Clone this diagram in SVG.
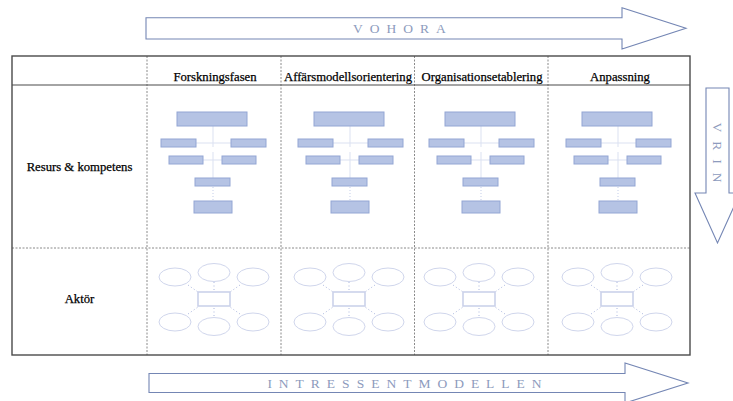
<svg xmlns="http://www.w3.org/2000/svg" xmlns:xlink="http://www.w3.org/1999/xlink" width="733" height="401" viewBox="0 0 733 401">
  <style>
    .bg { fill: #ffffff; }
    .frame { fill: none; stroke: #4a4a4a; stroke-width: 1.4; }
    .rule { stroke: #4a4a4a; stroke-width: 1.2; }
    .sep { stroke: #8a8a8a; stroke-width: 1; stroke-dasharray: 2 1.5; }
    .head { font-family: "Liberation Serif", "Times New Roman", serif; font-size: 12.7px; fill: #000000; stroke: #000000; stroke-width: 0.25; text-anchor: middle; }
    .arrow { fill: #ffffff; stroke: #7486b4; stroke-width: 1.1; }
    .atext { font-family: "Liberation Serif", "Times New Roman", serif; font-size: 13.5px; fill: #8d9bbd; text-anchor: middle; }
    .box { fill: #b5c3e4; stroke: #93a6d4; stroke-width: 1; }
    .link { stroke: #dbe1f1; stroke-width: 1; fill: none; }
    .dlink { stroke: #c3cde9; stroke-width: 1; stroke-dasharray: 1 2; fill: none; }
    .oval { fill: #ffffff; stroke: #d0d6ec; stroke-width: 1; }
    .hub { fill: #ffffff; stroke: #cbd2ea; stroke-width: 1.6; }
    .spoke { stroke: #aab6de; stroke-width: 1; stroke-dasharray: 1 2.5; fill: none; }
  </style>
  <defs>
    <!-- small org chart: one per phase column -->
    <g id="orgchart">
      <line class="link" x1="213" y1="126" x2="213" y2="147"/>
      <line class="link" x1="196" y1="143" x2="231" y2="143"/>
      <line class="link" x1="213" y1="152" x2="213" y2="178"/>
      <line class="link" x1="203" y1="160" x2="222" y2="160"/>
      <line class="dlink" x1="213" y1="187" x2="213" y2="201"/>
      <rect class="box" x="177" y="112" width="70" height="14"/>
      <rect class="box" x="161" y="139" width="35" height="8"/>
      <rect class="box" x="231" y="139" width="35" height="8"/>
      <rect class="box" x="169" y="156" width="34" height="8"/>
      <rect class="box" x="222" y="156" width="34" height="8"/>
      <rect class="box" x="195" y="178" width="35" height="8"/>
      <rect class="box" x="194" y="201" width="38" height="12"/>
    </g>
    <!-- small stakeholder map: hub with six actors -->
    <g id="actormap">
      <line class="spoke" x1="188" y1="285" x2="198" y2="292"/>
      <line class="spoke" x1="214" y1="282" x2="214" y2="292"/>
      <line class="spoke" x1="240" y1="285" x2="230" y2="292"/>
      <line class="spoke" x1="188" y1="314" x2="198" y2="307"/>
      <line class="spoke" x1="214" y1="308" x2="214" y2="316"/>
      <line class="spoke" x1="240" y1="314" x2="230" y2="307"/>
      <ellipse class="oval" cx="175" cy="277" rx="16" ry="9"/>
      <ellipse class="oval" cx="214" cy="272.5" rx="16" ry="9"/>
      <ellipse class="oval" cx="253" cy="277" rx="16" ry="9"/>
      <ellipse class="oval" cx="175" cy="322" rx="16" ry="9"/>
      <ellipse class="oval" cx="214" cy="326.5" rx="16" ry="9"/>
      <ellipse class="oval" cx="253" cy="322" rx="16" ry="9"/>
      <rect class="hub" x="198" y="292" width="32" height="14"/>
    </g>
  </defs>

  <rect class="bg" x="0" y="0" width="733" height="401"/>

  <!-- big arrows -->
  <g id="vohora">
    <path class="arrow" d="M146,17.7 H622 V7.7 L686,28.3 L622,49 V39 H146 Z"/>
    <text class="atext" x="403" y="32.5" letter-spacing="7">VOHORA</text>
  </g>
  <g id="vrin">
    <path class="arrow" d="M706,88 H729 V193 H740 L717.5,243 L695,193 H706 Z"/>
    <text class="atext" transform="translate(713,157) rotate(90)" x="0" y="0" letter-spacing="9">VRIN</text>
  </g>
  <g id="intressentmodellen">
    <path class="arrow" d="M149,373.5 H625 V363 L688,383 L625,403 V392.5 H149 Z"/>
    <text class="atext" x="408" y="388" letter-spacing="7">INTRESSENTMODELLEN</text>
  </g>

  <!-- table -->
  <g id="table">
    <line class="sep" x1="12" y1="248" x2="690" y2="248"/>
    <line class="sep" x1="147" y1="56" x2="147" y2="355"/>
    <line class="sep" x1="281" y1="56" x2="281" y2="355"/>
    <line class="sep" x1="414.5" y1="56" x2="414.5" y2="355"/>
    <line class="sep" x1="548" y1="56" x2="548" y2="355"/>
    <line class="rule" x1="12" y1="85" x2="690" y2="85"/>
    <rect class="frame" x="12" y="56" width="678" height="299"/>
  </g>

  <g id="headers">
    <text class="head" x="215" y="81">Forskningsfasen</text>
    <text class="head" x="348" y="81">Affärsmodellsorientering</text>
    <text class="head" x="482" y="81">Organisationsetablering</text>
    <text class="head" x="620" y="81">Anpassning</text>
    <text class="head" x="79.5" y="171">Resurs &amp; kompetens</text>
    <text class="head" x="79.5" y="303">Aktör</text>
  </g>

  <!-- resource charts per phase -->
  <g id="resurs-forskning"><use xlink:href="#orgchart"/></g>
  <g id="resurs-affarsmodell"><use xlink:href="#orgchart" transform="translate(137,0)"/></g>
  <g id="resurs-organisation"><use xlink:href="#orgchart" transform="translate(268,0)"/></g>
  <g id="resurs-anpassning"><use xlink:href="#orgchart" transform="translate(405,0)"/></g>

  <!-- actor maps per phase -->
  <g id="aktor-forskning"><use xlink:href="#actormap"/></g>
  <g id="aktor-affarsmodell"><use xlink:href="#actormap" transform="translate(135,0)"/></g>
  <g id="aktor-organisation"><use xlink:href="#actormap" transform="translate(265,0)"/></g>
  <g id="aktor-anpassning"><use xlink:href="#actormap" transform="translate(403,0)"/></g>
</svg>
